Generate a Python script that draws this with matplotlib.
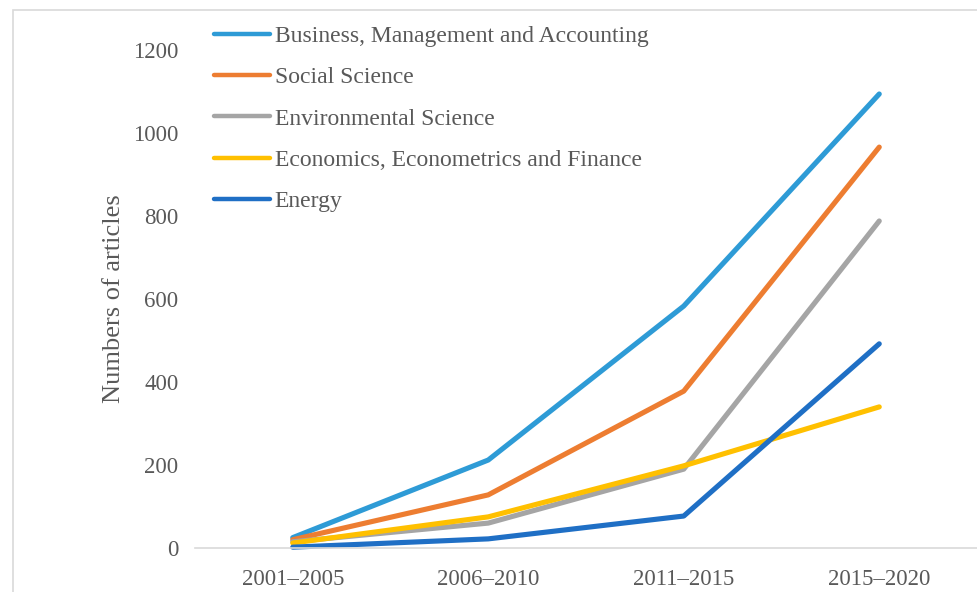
import matplotlib.pyplot as plt
import numpy as np
from matplotlib.patches import Rectangle

# Data
periods = ["2001–2005", "2006–2010", "2011–2015", "2015–2020"]
business = [25, 212, 583, 1094]
social = [20, 128, 378, 966]
environmental = [15, 60, 190, 788]
economics = [12, 75, 198, 340]
energy = [2, 22, 77, 492]

series = [
    ("Business, Management and Accounting", business, "#2E9BD6"),
    ("Social Science", social, "#ED7D31"),
    ("Environmental Science", environmental, "#A5A5A5"),
    ("Economics, Econometrics and Finance", economics, "#FFC000"),
    ("Energy", energy, "#1F6FC5"),
]

plt.rcParams['font.family'] = ['Liberation Serif', 'DejaVu Serif']
text_color = "#595959"

fig = plt.figure(figsize=(9.78, 5.92), dpi=100)
ax = fig.add_axes([195/978, 44/592, (977-195)/978, (548-50)/592])

x = np.arange(len(periods))
handles = []
for name, vals, col in series:
    ln, = ax.plot(x, vals, color=col, linewidth=3.7, label=name,
                  solid_capstyle='round', solid_joinstyle='round', clip_on=False)
    handles.append(ln)

ax.set_xlim(-0.5, 3.5)
ax.set_ylim(0, 1200)
ax.set_xticks(x)
ax.set_xticklabels(periods)
ax.set_yticks(range(0, 1201, 200))
ax.tick_params(axis='both', length=0, labelsize=16.5, colors=text_color)
ax.tick_params(axis='x', pad=15)
ax.tick_params(axis='y', pad=12)
for s in ['top', 'right', 'left']:
    ax.spines[s].set_visible(False)
ax.spines['bottom'].set_color("#D9D9D9")
ax.spines['bottom'].set_linewidth(1.2)

ax.set_ylabel("Numbers of articles", fontsize=19, color=text_color, labelpad=6)

# legend in the upper-left corner
leg = fig.legend(handles=handles, loc='upper left', bbox_to_anchor=(205/978, 1 - 16/592),
                 frameon=False, fontsize=17, handlelength=2.35, handletextpad=0.2,
                 labelspacing=0.84, labelcolor=text_color, borderaxespad=0)
for h in leg.legend_handles:
    h.set_linewidth(3.2)

# light frame around the chart area
fig.patches.append(Rectangle((13/978, -0.1), 1.2, 1 - 10/592 + 0.1,
                             transform=fig.transFigure, fill=False,
                             edgecolor="#D9D9D9", linewidth=1.2))

plt.savefig('out.png', dpi=100)
